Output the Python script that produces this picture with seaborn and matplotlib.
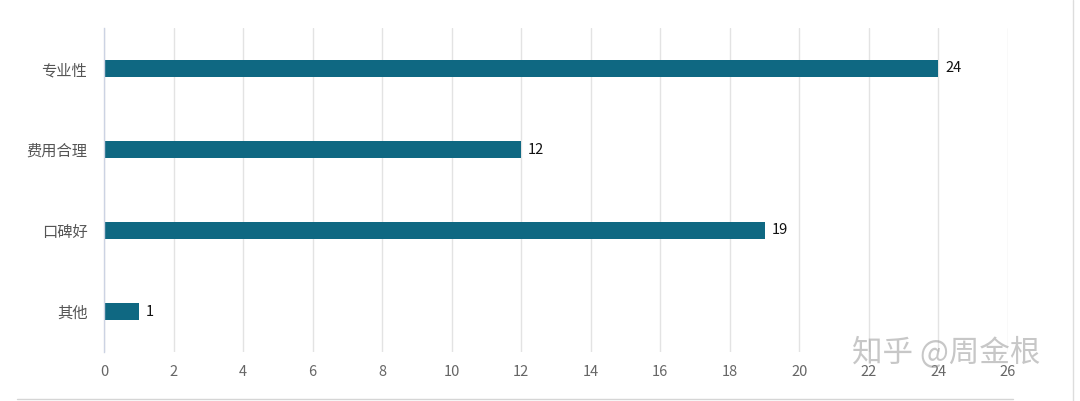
import matplotlib
matplotlib.use("Agg")
import matplotlib.pyplot as plt
import seaborn as sns
import pandas as pd

categories = ["专业性", "费用合理", "口碑好", "其他"]
counts = [24, 12, 19, 1]
x_ticks = list(range(0, 28, 2))

sns.set_theme(style="white")
plt.rcParams["font.family"] = ["Noto Sans CJK SC", "DejaVu Sans"]

df = pd.DataFrame({"reason": categories, "count": counts})

fig = plt.figure(figsize=(10.8, 4.01), dpi=100)
ax = fig.add_axes([104 / 1080, 1 - 352 / 401, (1008 - 104) / 1080, (352 - 28) / 401])

sns.barplot(data=df, x="count", y="reason", orient="h", color="#0f6882",
            width=0.21, saturation=1, linewidth=0, ax=ax)

ax.set_xlim(0, 26)
ax.set_ylim(3.5, -0.5)
ax.set_xticks(x_ticks)
ax.set_xticklabels([str(t) for t in x_ticks])
ax.grid(axis="x", color="#e3e3e3", linewidth=1)
ax.set_axisbelow(True)
ax.set_xlabel("")
ax.set_ylabel("")

for s in ["top", "right", "bottom"]:
    ax.spines[s].set_visible(False)
ax.spines["left"].set_color("#ccd3e3")
ax.spines["left"].set_linewidth(1)

ax.tick_params(axis="x", length=0, pad=9, labelsize=10.5, labelcolor="#666666")
ax.tick_params(axis="y", length=0, pad=12, labelsize=11, labelcolor="#555555")

for i, v in enumerate(counts):
    ax.annotate(str(v), xy=(v, i), xytext=(5, 0), textcoords="offset points",
                va="center", ha="left", fontsize=10.5, color="#111111")

# frame lines of the original screenshot
fig.add_artist(plt.Line2D([1073 / 1080, 1073 / 1080], [0, 1], color="#dddddd", lw=1))
fig.add_artist(plt.Line2D([17 / 1080, 1013 / 1080], [2 / 401, 2 / 401], color="#d5d5d5", lw=1))

# watermark
fig.text(946 / 1080, 1 - 353 / 401, "知乎 @周金根", ha="center", va="center",
         fontsize=22, color="#9a9a9a", alpha=0.55)

fig.savefig("out.png", dpi=100)
